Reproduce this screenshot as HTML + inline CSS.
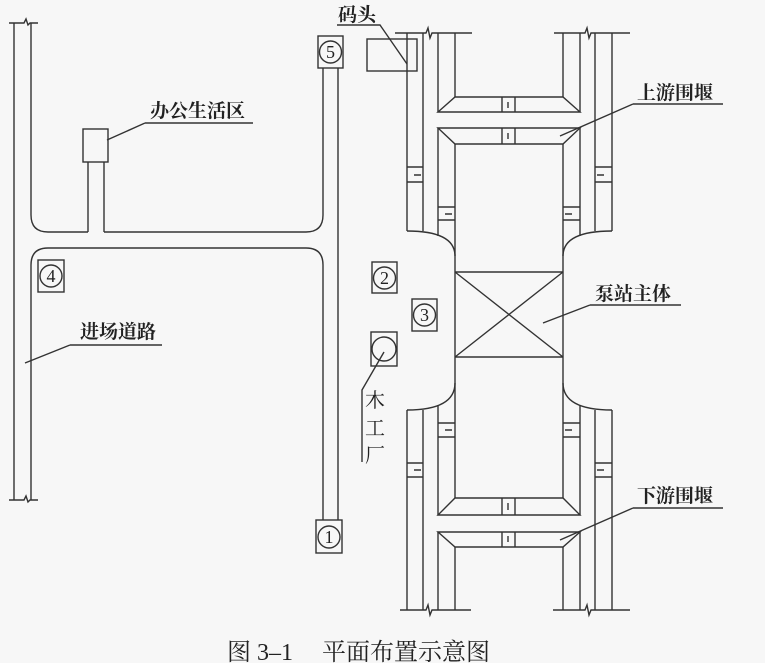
<!DOCTYPE html>
<html><head><meta charset="utf-8"><style>
html,body{margin:0;padding:0;background:#f7f7f7;}
svg{display:block;}
text{font-family:"Liberation Serif","Noto Serif CJK SC",serif;fill:#222;}
</style></head><body>
<svg width="765" height="663" viewBox="0 0 765 663" xmlns="http://www.w3.org/2000/svg">
<g fill="none" stroke="#333" stroke-width="1.4">
<line x1="14" y1="23" x2="14" y2="500"/>
<path d="M9,23 H24 L26,19 L28,25 L30,23 H38"/>
<path d="M9,500 H24 L26,496 L28,502 L30,500 H38"/>
<path d="M31,23 V215 Q31,232 48,232 H88"/>
<path d="M104,232 H306 Q323,232 323,215 V68"/>
<line x1="88" y1="232" x2="88" y2="162"/>
<line x1="104" y1="232" x2="104" y2="162"/>
<rect x="83" y="129" width="25" height="33"/>
<path d="M31,500 V265 Q31,248 48,248 H306 Q323,248 323,265 V520"/>
<line x1="338" y1="68" x2="338" y2="520"/>
<rect x="318" y="36" width="25" height="32"/><circle cx="330.5" cy="52" r="11"/>
<rect x="38" y="260" width="26" height="32"/><circle cx="51" cy="276" r="11"/>
<rect x="372" y="262" width="25" height="31"/><circle cx="384.5" cy="278" r="11"/>
<rect x="412" y="299" width="25" height="32"/><circle cx="424.5" cy="315" r="11"/>
<rect x="371" y="332" width="26" height="34"/><circle cx="384" cy="349" r="12"/>
<rect x="316" y="520" width="26" height="33"/><circle cx="329" cy="537" r="11"/>
<rect x="367" y="39" width="50" height="32"/>
<path d="M145,123 H253 M145,123 L107,140"/>
<path d="M70,345 H162 M70,345 L25,363"/>
<path d="M337,25 H380 L407,64"/>
<path d="M384,352 L362,390 V462"/>
<path d="M633,104 H723 M633,104 L560,136"/>
<path d="M590,305 H681 M590,305 L543,323"/>
<path d="M633,508 H723 M633,508 L560,540"/>
<path d="M395,33 H426 L428,28 L430,38 L432,33 H472"/>
<path d="M554,33 H585 L587,28 L589,38 L591,33 H630"/>
<path d="M400,610 H426 L428,605 L430,615 L432,610 H471"/>
<path d="M553,610 H585 L587,605 L589,615 L591,610 H630"/>
<line x1="407" y1="33" x2="407" y2="231"/>
<line x1="423" y1="33" x2="423" y2="231"/>
<line x1="612" y1="33" x2="612" y2="231"/>
<line x1="595" y1="33" x2="595" y2="231"/>
<path d="M407,231 Q455,231 455,256"/>
<path d="M612,231 Q563,231 563,256"/>
<line x1="438" y1="33" x2="438" y2="112"/>
<line x1="455" y1="33" x2="455" y2="97"/>
<line x1="563" y1="33" x2="563" y2="97"/>
<line x1="580" y1="33" x2="580" y2="112"/>
<path d="M455,97 H563 L580,112 H438 Z"/>
<path d="M438,128 H580 L563,144 H455 Z"/>
<line x1="438" y1="128" x2="438" y2="236"/>
<line x1="580" y1="128" x2="580" y2="236"/>
<line x1="455" y1="144" x2="455" y2="498"/>
<line x1="563" y1="144" x2="563" y2="498"/>
<path d="M502,97 V112 M515,97 V112 M508,102 V108"/>
<path d="M502,128 V144 M515,128 V144 M508,133 V139"/>
<path d="M502,498 V515 M515,498 V515 M508,503 V510"/>
<path d="M502,532 V547 M515,532 V547 M508,536 V542"/>
<path d="M407,167 H423 M407,182 H423 M414,175 H421"/>
<path d="M595,167 H612 M595,182 H612 M597,175 H604"/>
<path d="M438,207 H455 M438,220 H455 M445,214 H452"/>
<path d="M563,207 H580 M563,220 H580 M565,214 H572"/>
<path d="M438,423 H455 M438,437 H455 M445,430 H452"/>
<path d="M563,423 H580 M563,437 H580 M565,430 H572"/>
<path d="M407,463 H423 M407,477 H423 M414,470 H421"/>
<path d="M595,463 H612 M595,477 H612 M597,470 H604"/>
<path d="M455,272 H563 M455,357 H563 M455,272 L563,357 M563,272 L455,357"/>
<path d="M455,383 Q455,410 407,410"/>
<path d="M563,383 Q563,410 612,410"/>
<line x1="407" y1="410" x2="407" y2="610"/>
<line x1="423" y1="410" x2="423" y2="610"/>
<line x1="595" y1="410" x2="595" y2="610"/>
<line x1="612" y1="410" x2="612" y2="610"/>
<line x1="438" y1="405" x2="438" y2="515"/>
<line x1="580" y1="405" x2="580" y2="515"/>
<path d="M455,498 H563 L580,515 H438 Z"/>
<path d="M438,532 H580 L563,547 H455 Z"/>
<line x1="438" y1="532" x2="438" y2="610"/>
<line x1="580" y1="532" x2="580" y2="610"/>
<line x1="455" y1="547" x2="455" y2="610"/>
<line x1="563" y1="547" x2="563" y2="610"/>
</g>
<g fill="#222" stroke="none" font-size="18" text-anchor="middle" font-family="Liberation Serif, serif">
<text x="330.5" y="58">5</text><text x="51" y="282">4</text><text x="384.5" y="284">2</text>
<text x="424.5" y="321">3</text><text x="329" y="543">1</text>
</g>
<g font-size="19" font-weight="bold">
<text x="150" y="117">办公生活区</text>
<text x="338" y="21">码头</text>
<text x="80" y="338">进场道路</text>
<text x="637" y="99">上游围堰</text>
<text x="595" y="300">泵站主体</text>
<text x="637" y="502">下游围堰</text>
</g>
<g font-size="20">
<text x="365" y="407">木</text><text x="365" y="435">工</text><text x="365" y="462">厂</text>
</g>
<text x="227" y="660" font-size="24">图 3–1</text>
<text x="322" y="660" font-size="24">平面布置示意图</text>
</svg>
</body></html>
